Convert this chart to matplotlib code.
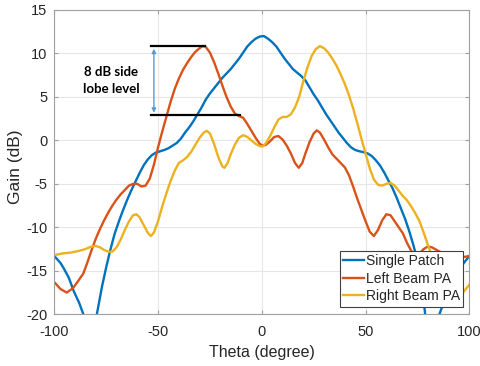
import matplotlib
matplotlib.use("Agg")
import matplotlib.pyplot as plt
import numpy as np

# ---------------- data ----------------
single_x = [-100, -97, -95.5, -93, -90.7, -88, -86, -84, -82.5, -81, -79.5, -77, -75, -73, -71, -69, -67,
            -65, -63, -61, -59, -57, -55, -53, -51, -49, -47, -45, -43, -41, -39, -37, -35, -33, -31,
            -29, -27, -25, -23, -21, -19, -17, -15, -13, -11, -9, -7, -5, -3, -1, 1, 3, 5, 7, 9, 11,
            13, 15, 17, 19, 21, 23, 25, 27, 29, 31, 33, 35, 37, 39, 41, 43, 45, 47, 49, 51, 53, 55,
            57, 59, 61, 63, 65, 67, 69, 71, 73, 75, 77, 78.5, 80, 82, 84, 85.6, 88, 90.7, 93, 95.5, 98, 100]
single_y = [-13.3, -14.1, -14.7, -15.8, -17.3, -18.7, -20.0, -22.5, -26.0, -23.0, -20.0, -16.8, -14.6,
            -12.6, -10.8, -9.4, -8.1, -6.9, -5.8, -4.8, -3.8, -2.9, -2.2, -1.7, -1.4, -1.25, -1.1,
            -0.9, -0.6, -0.3, 0.2, 0.9, 1.5, 2.2, 3.0, 3.8, 4.7, 5.4, 6.0, 6.6, 7.2, 7.7, 8.2, 8.8,
            9.4, 10.1, 10.8, 11.3, 11.7, 11.95, 12.0, 11.7, 11.3, 10.8, 10.1, 9.4, 8.8, 8.2, 7.8,
            7.4, 6.9, 6.1, 5.3, 4.6, 3.8, 3.0, 2.3, 1.6, 0.9, 0.3, -0.3, -0.8, -1.1, -1.25, -1.35,
            -1.5, -1.8, -2.3, -2.9, -3.7, -4.6, -5.5, -6.6, -7.8, -9.0, -10.4, -12.0, -13.8, -16.5,
            -19.5, -23.0, -26.0, -23.0, -20.0, -18.4, -17.0, -15.8, -14.7, -13.9, -13.3]

left_x = [-100, -97, -94, -91, -88, -86, -84, -82, -80, -78, -76, -74, -72, -70, -68, -66, -64, -62,
          -60, -58, -56, -54, -52, -50, -48, -46, -44, -42, -40, -38, -36, -34, -32, -30, -28.5, -27,
          -25, -23, -21, -19, -17, -15, -13, -11, -9, -7, -5, -3, -1, 0.5, 2, 4, 6, 8, 10, 12, 14, 16,
          17.8, 19.5, 21, 23, 25, 26.5, 28, 30, 32, 34, 36, 38, 40, 42, 44, 46, 48, 50, 52, 54, 56,
          58, 60, 62, 64, 66, 68, 70, 72, 74, 76, 78, 80, 82, 85, 90, 95, 100]
left_y = [-16.3, -17.1, -17.5, -17.0, -16.0, -15.3, -14.0, -12.6, -11.3, -10.2, -9.2, -8.3, -7.5, -6.8,
          -6.2, -5.7, -5.2, -5.0, -5.0, -5.3, -5.2, -4.4, -2.8, -0.8, 1.0, 2.7, 4.4, 5.9, 7.1, 8.1,
          8.9, 9.6, 10.2, 10.6, 10.85, 10.75, 10.1, 9.0, 7.7, 6.3, 5.0, 3.9, 3.1, 2.8, 2.6, 1.9, 1.1,
          0.3, -0.4, -0.6, -0.5, -0.1, 0.4, 0.5, 0.1, -0.6, -1.5, -2.6, -3.15, -2.6, -1.5, -0.2, 0.8,
          1.15, 0.9, 0.1, -0.8, -1.6, -2.1, -2.6, -3.1, -4.0, -5.3, -6.7, -8.0, -9.3, -10.5, -11.0,
          -10.3, -9.2, -8.5, -8.6, -9.3, -10.0, -10.7, -11.8, -12.7, -13.2, -13.0, -12.5, -12.2,
          -12.3, -12.7, -13.3, -13.5, -13.3]

right_x = [-100, -96, -92, -88, -85, -82, -80, -78, -76, -74, -72, -70, -68, -66, -64, -62, -60.5, -59,
           -57, -55, -53.5, -52, -50, -48, -46, -44, -42, -40, -38, -36, -34, -32, -30, -28, -26.5, -25,
           -23, -21, -19, -18, -16.5, -15, -13, -11, -9, -7, -5, -3, -1, 0.5, 2, 4, 6, 8, 10, 12, 14,
           16, 18, 20, 22, 24, 26, 28, 30, 32, 34, 36, 38, 40, 42, 44, 46, 48, 50, 52, 54, 56, 58, 60,
           62, 64, 66, 68, 70, 72, 74, 76, 78, 80, 82, 85, 88, 91, 94, 97, 100]
right_y = [-13.2, -13.0, -12.9, -12.7, -12.5, -12.2, -12.15, -12.3, -12.6, -12.8, -12.8, -12.3, -11.4,
           -10.3, -9.3, -8.6, -8.5, -8.8, -9.7, -10.6, -11.0, -10.6, -9.3, -7.6, -6.1, -4.7, -3.5,
           -2.6, -2.3, -1.9, -1.3, -0.5, 0.3, 0.9, 1.1, 0.8, -0.4, -1.9, -3.0, -3.15, -2.6, -1.6,
           -0.5, 0.3, 0.6, 0.4, 0.0, -0.4, -0.65, -0.7, -0.3, 0.5, 1.5, 2.4, 2.7, 2.7, 3.0, 3.8, 5.0,
           6.8, 8.4, 9.7, 10.5, 10.85, 10.6, 10.1, 9.4, 8.6, 7.6, 6.5, 5.2, 3.7, 2.0, 0.2, -1.5,
           -3.2, -4.5, -5.1, -5.2, -5.0, -4.9, -5.2, -5.8, -6.4, -6.9, -7.6, -8.4, -9.3, -10.6,
           -12.0, -13.3, -15.2, -16.8, -17.8, -18.0, -17.5, -16.6]

series_labels = ["Single Patch", "Left Beam PA", "Right Beam PA"]
xticks = [-100, -50, 0, 50, 100]
yticks = [-20, -15, -10, -5, 0, 5, 10, 15]

# annotation values
sll_top = 10.85
sll_bottom = 2.88
sll_text = "8 dB side\nlobe level"

# ---------------- plot ----------------
plt.rcParams['font.family'] = ['Liberation Sans', 'DejaVu Sans']
plt.rcParams['axes.unicode_minus'] = False
fig = plt.figure(figsize=(4.81, 3.66), dpi=100)
ax = fig.add_axes([0.1129, 0.1413, 0.8628, 0.8314])

colors = ["#0072BD", "#D95319", "#EDB120"]
ax.plot(single_x, single_y, color=colors[0], lw=1.7, label=series_labels[0])
ax.plot(left_x, left_y, color=colors[1], lw=1.7, label=series_labels[1])
ax.plot(right_x, right_y, color=colors[2], lw=1.7, label=series_labels[2])

ax.set_xlim(-100, 100)
ax.set_ylim(-20, 15)
ax.set_xticks(xticks)
ax.set_yticks(yticks)
ax.grid(True, color="#e6e6e6", lw=0.8)
ax.set_axisbelow(True)
for s in ax.spines.values():
    s.set_color("#a0a0a0")
    s.set_linewidth(0.8)
ax.tick_params(direction="in", length=3, color="#a0a0a0", labelcolor="#262626", labelsize=10.5,
               top=True, right=True)
ax.tick_params(axis="x", pad=8)
ax.tick_params(axis="y", pad=5)
ax.set_xlabel("Theta (degree)", fontsize=11.5, color="#262626", labelpad=4)
ax.set_ylabel("Gain (dB)", fontsize=12.5, color="#262626")
ax.yaxis.set_label_coords(-0.075, 0.484)

# side lobe annotation
ax.plot([-53.3, -27.6], [sll_top, sll_top], color="black", lw=1.6)
ax.plot([-53.3, -10.7], [sll_bottom, sll_bottom], color="black", lw=1.6)
ax.annotate("", xy=(-52.0, sll_top - 0.3), xytext=(-52.0, sll_bottom + 0.3),
            arrowprops=dict(arrowstyle="<|-|>", color="#5B9BD5", lw=1.0,
                            mutation_scale=6, shrinkA=0, shrinkB=0))
ax.text(-72.5, 6.9, sll_text, ha="center", va="center", fontsize=9.5, fontweight="bold",
        family=["Lato", "DejaVu Sans"], linespacing=1.5, color="black")

leg = ax.legend(loc="lower right", bbox_to_anchor=(0.9855, 0.025), borderaxespad=0,
                fontsize=10, handlelength=1.5, handletextpad=0.1, labelspacing=0.25,
                borderpad=0.25, fancybox=False, framealpha=1, edgecolor="#404040")
leg.get_frame().set_linewidth(0.8)
for t in leg.get_texts():
    t.set_color("#262626")

fig.savefig("out.png", dpi=100)
